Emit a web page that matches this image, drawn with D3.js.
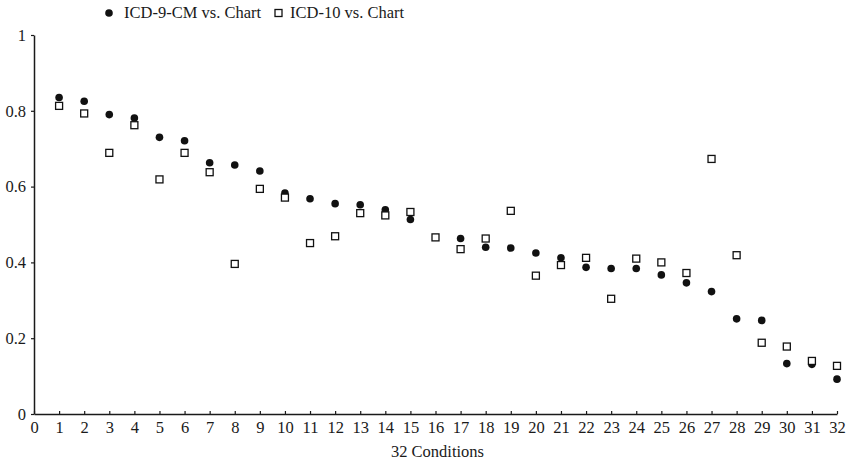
<!DOCTYPE html>
<html>
<head>
<meta charset="utf-8">
<script src="https://cdn.jsdelivr.net/npm/d3@7"></script>
<style>
  body { margin: 0; background: #fff; }
  svg { font-family: "Liberation Serif", "Times New Roman", serif; }
</style>
</head>
<body>
<svg id="chart" width="850" height="464"></svg>
<script>
// 32 conditions, agreement of each coding vs chart
const conditions = d3.range(1, 33);
const icd9 = [0.835, 0.825, 0.79, 0.781, 0.73, 0.721, 0.663, 0.657, 0.641, 0.583,
              0.568, 0.555, 0.552, 0.539, 0.513, null, 0.463, 0.44, 0.438, 0.425,
              0.412, 0.387, 0.384, 0.384, 0.367, 0.346, 0.323, 0.251, 0.247, 0.133,
              0.131, 0.092];
const icd10 = [0.813, 0.793, 0.689, 0.762, 0.619, 0.689, 0.638, 0.396, 0.594, 0.571,
               0.451, 0.469, 0.530, 0.524, 0.533, 0.466, 0.435, 0.463, 0.536, 0.365,
               0.393, 0.412, 0.304, 0.41, 0.40, 0.372, 0.673, 0.419, 0.188, 0.178,
               0.14, 0.127];
const xTicks = d3.range(0, 33);
const yTicks = [0, 0.2, 0.4, 0.6, 0.8, 1];
const seriesNames = ["ICD-9-CM vs. Chart", "ICD-10 vs. Chart"];

const svg = d3.select("#chart");
const ink = "#1a1a1a";
const fs = "16.5px";

const x = d3.scaleLinear().domain([0, 32]).range([34, 837]);
const y = d3.scaleLinear().domain([0, 1]).range([414, 35]);

// y axis
const gy = svg.append("g")
    .attr("transform", "translate(" + x(0) + ",0)")
    .call(d3.axisLeft(y).tickValues(yTicks).tickFormat(d3.format("~g"))
        .tickSize(3).tickSizeOuter(0).tickPadding(5));
// x axis, ticks pointing up
const gx = svg.append("g")
    .attr("transform", "translate(0," + y(0) + ")")
    .call(d3.axisBottom(x).tickValues(xTicks).tickFormat(d3.format("d"))
        .tickSize(-3).tickSizeOuter(0).tickPadding(7));

[gy, gx].forEach(g => {
    g.select(".domain").attr("stroke", ink).attr("stroke-width", 1.5);
    g.selectAll(".tick line").attr("stroke", ink).attr("stroke-width", 1.2);
    g.selectAll(".tick text").attr("fill", ink)
        .style("font-family", "Liberation Serif").style("font-size", fs);
});

svg.append("text")
    .attr("x", (x(0) + x(32)) / 2 + 2)
    .attr("y", 457)
    .attr("text-anchor", "middle")
    .attr("fill", ink)
    .style("font-size", fs)
    .text("32 Conditions");

// circles first, squares on top
svg.append("g").selectAll("circle")
    .data(conditions.filter((c, i) => icd9[i] != null))
    .join("circle")
    .attr("cx", c => x(c))
    .attr("cy", c => y(icd9[c - 1]))
    .attr("r", 3.8)
    .attr("fill", "#111");

const s = 7;
svg.append("g").selectAll("rect")
    .data(conditions)
    .join("rect")
    .attr("x", c => x(c) - s / 2)
    .attr("y", c => y(icd10[c - 1]) - s / 2)
    .attr("width", s)
    .attr("height", s)
    .attr("fill", "#fff")
    .attr("stroke", "#111")
    .attr("stroke-width", 1.3);

// legend
const lg = svg.append("g");
lg.append("circle").attr("cx", 109).attr("cy", 13).attr("r", 3.8).attr("fill", "#111");
lg.append("text").attr("x", 124).attr("y", 18).attr("fill", ink)
    .style("font-size", fs).text(seriesNames[0]);
lg.append("rect").attr("x", 275).attr("y", 9.5).attr("width", s).attr("height", s)
    .attr("fill", "#fff").attr("stroke", "#111").attr("stroke-width", 1.3);
lg.append("text").attr("x", 290).attr("y", 18).attr("fill", ink)
    .style("font-size", fs).text(seriesNames[1]);
</script>
</body>
</html>
